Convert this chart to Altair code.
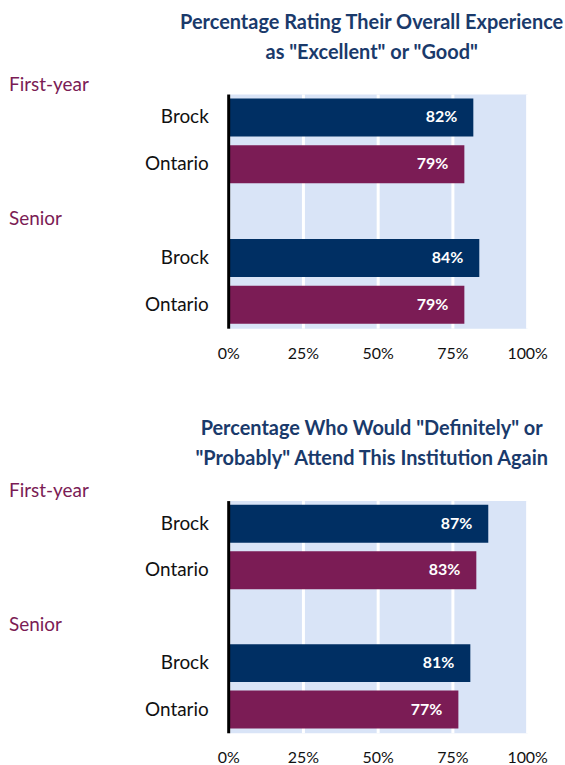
import altair as alt
import pandas as pd

# ---- data ----
groups = ["First-year", "First-year", "Senior", "Senior"]
institutions = ["Brock", "Ontario", "Brock", "Ontario"]
experience = [82, 79, 84, 79]
attend_again = [87, 83, 81, 77]
group_labels = ["First-year", "Senior"]
x_ticks = [0, 25, 50, 75, 100]
title_1 = ["Percentage Rating Their Overall Experience", 'as "Excellent" or "Good"']
title_2 = ['Percentage Who Would "Definitely" or', '"Probably" Attend This Institution Again']

NAVY = "#002F63"
MAROON = "#7B1C55"
BG = "#D9E4F7"
TITLE_C = "#1A3A6B"
FONT = "Lato"

rows = ["First-year|Brock", "First-year|Ontario", "gap", "Senior|Brock", "Senior|Ontario"]


def panel(values, title_lines, height):
    df = pd.DataFrame({
        "row": [f"{g}|{i}" for g, i in zip(groups, institutions)],
        "inst": institutions,
        "value": values,
        "label": [f"{v}%" for v in values],
    })
    y = alt.Y(
        "row:N",
        scale=alt.Scale(domain=rows, paddingInner=0.19, paddingOuter=0.095),
        axis=alt.Axis(
            title=None, ticks=False, domainColor="black", domainWidth=3,
            labelExpr="indexof(datum.value, '|') > 0 ? split(datum.value, '|')[1] : ''",
            labelFontSize=19, labelColor="#111111", labelFont=FONT, labelPadding=20,
            zindex=1,
        ),
    )
    x = alt.X(
        "value:Q",
        scale=alt.Scale(domain=[0, 100], nice=False),
        axis=alt.Axis(
            title=None, values=x_ticks, labelExpr="datum.value + '%'", ticks=False,
            domain=False, grid=True, gridColor="white", gridWidth=3, labelFlush=False,
            labelFontSize=16, labelColor="#111111", labelFont=FONT, labelPadding=17,
        ),
    )
    base = alt.Chart(df)
    bars = base.mark_bar(size=38).encode(
        x=x, y=y,
        color=alt.Color("inst:N", scale=alt.Scale(domain=["Brock", "Ontario"], range=[NAVY, MAROON]), legend=None),
    )
    labels = base.mark_text(align="right", dx=-16, color="white", fontWeight="bold",
                            fontSize=16, font=FONT).encode(
        x="value:Q", y="row:N", text="label:N")

    g1 = alt.Chart(pd.DataFrame({"g": [group_labels[0]], "row": [rows[0]]})).mark_text(
        align="left", dy=-33, fontSize=19, color=MAROON, font=FONT).encode(
        x=alt.value(-220), y="row:N", text="g:N")
    g2 = alt.Chart(pd.DataFrame({"g": [group_labels[1]], "row": [rows[2]]})).mark_text(
        align="left", dy=8, fontSize=19, color=MAROON, font=FONT).encode(
        x=alt.value(-220), y="row:N", text="g:N")

    return alt.layer(bars, labels, g1, g2).properties(
        width=300, height=height,
        title=alt.TitleParams(text=title_lines, fontSize=20, fontWeight="bold", color=TITLE_C,
                              font=FONT, anchor="middle", frame="group", lineHeight=30,
                              offset=13, dx=-6),
    )


chart = alt.vconcat(
    panel(experience, title_1, 235),
    panel(attend_again, title_2, 233),
    spacing=56,
).properties(
    padding={"left": 8, "top": 11, "right": 0, "bottom": 0},
    background="white",
).configure_view(
    fill=BG, stroke="transparent"
)

chart.save("out.html", embed_options={"renderer": "svg", "actions": False})
